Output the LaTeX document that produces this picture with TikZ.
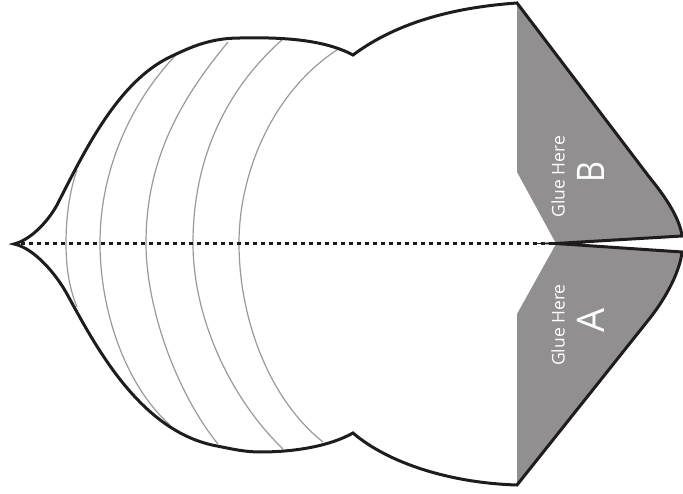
\documentclass[tikz,border=0pt]{standalone}
\usepackage{fontspec}
\usepackage{graphicx}
\setmainfont{Open Sans}
\definecolor{glue}{RGB}{145,143,144}
\definecolor{ink}{RGB}{30,28,29}
\tikzset{
 outline/.style={draw=ink,line width=3pt,line join=miter,miter limit=20},
 fold/.style={draw=black!40!white,line width=1.2pt},
 crease/.style={draw=ink,line width=3.4pt,dash pattern=on 4pt off 4pt},
 small/.style={text=white,rotate=90,font=\fontsize{17.5}{17.5}\selectfont,inner sep=0pt},
 big/.style={text=white,rotate=90,font=\fontsize{38}{38}\selectfont,inner sep=0pt}
}
\begin{document}
\begin{tikzpicture}[x=1pt,y=-1pt]
\useasboundingbox (0,0) rectangle (683,494);
% flaps
\fill[glue] (517,3) -- (517,172) -- (556,243.5) -- (682,236) .. controls (680,220) and (668,200) .. (650,178) -- cycle;
\fill[glue] (517,485) -- (517,314) -- (556,244) -- (682,252) .. controls (680,270) and (668,295) .. (650,318) -- cycle;
% fold lines
\draw[fold] (77,170) .. controls (70,190) and (66,215) .. (66,243) .. controls (66,270) and (70,290) .. (77,307);
\draw[fold] (175,56) .. controls (135,98) and (100,165) .. (100,243) .. controls (100,310) and (125,385) .. (170,425);
\draw[fold] (228,42) .. controls (180,100) and (146,160) .. (146,243) .. controls (146,310) and (178,395) .. (218,444);
\draw[fold] (283,39) .. controls (225,90) and (193,160) .. (193,243) .. controls (193,320) and (232,400) .. (283,449);
\draw[fold] (337,50) .. controls (275,90) and (239,170) .. (239,243) .. controls (239,320) and (270,400) .. (323,442);
% crease
\draw[crease] (20.5,243.5) -- (556,243.5);
% outline
\draw[outline] (14,244) .. controls (30,240) and (47,223) .. (57,205)
 .. controls (85,150) and (118,82) .. (170,57)
 .. controls (190,47.4) and (210,38) .. (240,38)
 .. controls (285,37) and (325,40) .. (353,55)
 .. controls (400,20) and (460,7) .. (517,3)
 -- (650,178) .. controls (668,200) and (680,220) .. (682,236)
 -- (556,243.5) -- (682,252)
 .. controls (680,270) and (668,295) .. (650,318)
 -- (517,485)
 .. controls (450,483) and (388,463) .. (353,433)
 .. controls (330,446) and (295,452) .. (260,452)
 .. controls (245,452) and (232,449) .. (217,446)
 .. controls (140,432) and (95,345) .. (67,294)
 .. controls (56,274) and (34,248) .. (14,244) -- cycle;
\node[small] (gb) at (558,176.5) {Glue Here};
\node[big] (b) at (591,172) {\scalebox{.85}[1]{B}};
\node[small] (ga) at (558,325) {Glue Here};
\node[big] (a) at (591,320) {A};
\end{tikzpicture}
\end{document}
